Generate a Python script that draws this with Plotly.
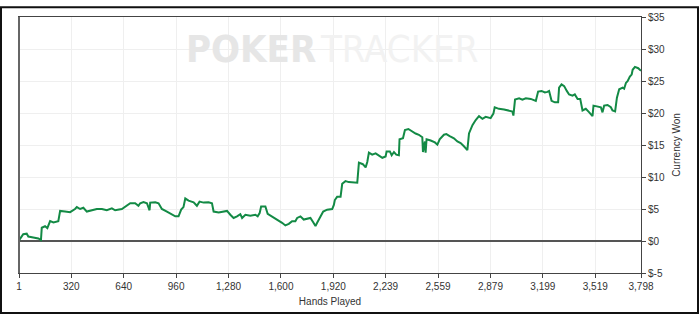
import plotly.graph_objects as go

hands = [1, 27, 48, 58, 88, 119, 135, 140, 160, 174, 191, 211, 241, 252, 282, 313, 343, 354, 374, 394,
         415, 446, 476, 507, 537, 568, 588, 629, 659, 680, 710, 730, 741, 761, 782, 798, 802, 833, 853, 873,
         904, 935, 955, 975, 991, 1005, 1016, 1036, 1067, 1087, 1103, 1128, 1158, 1179, 1189, 1220, 1250, 1271,
         1291, 1311, 1332, 1352, 1363, 1383, 1413, 1444, 1458, 1470, 1479, 1505, 1519, 1546, 1577, 1607, 1627,
         1648, 1668, 1688, 1699, 1719, 1739, 1760, 1780, 1797, 1811, 1821, 1835, 1858, 1882, 1913, 1923, 1929,
         1943, 1964, 1974, 1994, 2014, 2045, 2066, 2076, 2100, 2117, 2127, 2137, 2157, 2178, 2198, 2219, 2239,
         2245, 2265, 2276, 2290, 2304, 2320, 2324, 2345, 2357, 2378, 2402, 2422, 2442, 2463, 2467, 2479, 2483,
         2489, 2514, 2540, 2555, 2569, 2595, 2610, 2630, 2656, 2677, 2697, 2717, 2738, 2748, 2769, 2789, 2809,
         2830, 2850, 2880, 2897, 2905, 2931, 2962, 2993, 3013, 3019, 3029, 3054, 3074, 3095, 3125, 3156, 3170,
         3191, 3211, 3227, 3237, 3252, 3272, 3292, 3298, 3313, 3329, 3345, 3359, 3380, 3394, 3411, 3427, 3441,
         3461, 3482, 3502, 3508, 3533, 3553, 3563, 3573, 3594, 3614, 3624, 3640, 3651, 3665, 3686, 3695, 3706,
         3716, 3730, 3741, 3747, 3761, 3781, 3798]
won = [0.1, 1.06, 1.15, 0.7, 0.55, 0.4, 0.15, 2.07, 2.3, 2.0, 3.1, 2.9, 3.1, 4.7, 4.6, 4.5, 5.0, 5.3, 5.0, 5.2,
       4.6, 4.8, 5.0, 5.0, 4.8, 5.1, 4.8, 5.0, 5.5, 5.9, 5.9, 5.5, 5.9, 6.1, 5.9, 4.8, 6.0, 6.05, 5.9, 5.0,
       4.6, 4.1, 3.85, 3.85, 4.9, 5.3, 6.65, 6.3, 6.05, 5.5, 6.15, 6.0, 6.05, 5.9, 4.6, 4.45, 4.6, 4.7,
       4.1, 3.6, 3.85, 4.2, 3.6, 4.1, 3.96, 4.1, 3.85, 4.36, 5.4, 5.4, 4.26, 3.85, 3.35, 2.84, 2.43,
       2.68, 3.1, 3.1, 3.6, 3.85, 3.35, 3.45, 3.6, 2.94, 2.33, 2.84, 3.6, 4.6, 4.9, 5.0, 5.64, 6.4,
       6.9, 6.9, 8.94, 9.35, 9.2, 9.1, 9.1, 12.25, 12.0, 11.5, 12.35, 13.8, 13.5, 13.7, 13.4, 13.0, 13.2,
       14.0, 14.0, 13.4, 13.9, 13.5, 13.4, 15.9, 16.05, 17.35, 17.5, 17.1, 16.8, 16.6, 16.2, 13.9, 15.55, 13.8,
       15.9, 15.7, 15.4, 15.05, 15.9, 16.6, 16.7, 16.4, 16.05, 15.55, 15.3, 14.8, 14.2, 16.8, 18.1, 18.9, 19.5,
       19.1, 19.4, 19.2, 19.9, 20.9, 20.65, 20.55, 20.4, 20.24, 19.6, 22.1, 22.3, 22.07, 22.3, 22.2, 21.9, 23.35,
       23.45, 23.2, 23.3, 23.45, 21.9, 21.67, 21.67, 23.96, 24.47, 24.2, 23.45, 22.9, 22.7, 22.9, 22.2, 22.2, 20.4,
       20.65, 20.1, 19.5, 21.15, 21.0, 20.9, 20.1, 21.15, 21.25, 20.9, 20.4, 20.24, 22.4, 23.7, 23.96, 23.8, 24.7,
       24.97, 25.7, 26.0, 26.75, 27.2, 27.0, 26.6]

x_ticks = [1, 320, 640, 960, 1280, 1600, 1920, 2239, 2559, 2879, 3199, 3519, 3798]
x_labels = ["1", "320", "640", "960", "1,280", "1,600", "1,920", "2,239", "2,559", "2,879", "3,199", "3,519", "3,798"]
y_ticks = [-5, 0, 5, 10, 15, 20, 25, 30, 35]
y_labels = ["$-5", "$0", "$5", "$10", "$15", "$20", "$25", "$30", "$35"]

FONT = "Liberation Sans, Arial, sans-serif"
WM_FONT = "Liberation Sans Narrow, Arial Narrow, DejaVu Sans Condensed, sans-serif"

fig = go.Figure()
fig.add_trace(go.Scatter(x=hands, y=won, mode="lines",
                         line=dict(color="#138a45", width=2), hoverinfo="skip"))

W, H = 700, 316
L, R, T, B = 19, 59, 11, 43
pw, ph = W - L - R, H - T - B

def px(xp):
    return (xp - L) / pw

def py(yp):
    return (H - B - yp) / ph

fig.update_layout(
    width=W, height=H,
    margin=dict(l=L, r=R, t=T, b=B),
    paper_bgcolor="white", plot_bgcolor="white",
    showlegend=False,
    font=dict(family=FONT, size=10, color="#333"),
    xaxis=dict(range=[1, 3798], tickvals=x_ticks, ticktext=x_labels,
               showgrid=True, gridcolor="#efefef", gridwidth=1,
               showline=True, linecolor="#444", linewidth=1, mirror=True,
               ticks="outside", ticklen=4, tickcolor="#444",
               zeroline=False,
               title=dict(text="Hands Played", font=dict(size=10, color="#333"), standoff=6)),
    yaxis=dict(range=[-5, 35], tickvals=y_ticks, ticktext=y_labels, side="right",
               showgrid=True, gridcolor="#efefef", gridwidth=1,
               showline=True, linecolor="#444", linewidth=1, mirror=True,
               ticks="outside", ticklen=4, tickcolor="#444",
               zeroline=True, zerolinecolor="#555", zerolinewidth=1.5,
               title=dict(text="Currency Won", font=dict(size=10, color="#333"), standoff=8)),
    shapes=[
        dict(type="rect", xref="paper", yref="paper",
             x0=px(1), x1=px(698), y0=py(314), y1=py(1),
             line=dict(color="#111", width=2), layer="below"),
        dict(type="line", xref="paper", yref="paper",
             x0=0, x1=0, y0=0, y1=1, line=dict(color="#666", width=2)),
    ],
    annotations=[
        dict(text="<b>POKER</b>", xref="paper", yref="paper", x=px(318), y=py(44),
             xanchor="right", yanchor="middle", showarrow=False,
             font=dict(family=WM_FONT, size=38, color="#e6e6e6")),
        dict(text="TRACKER", xref="paper", yref="paper", x=px(318), y=py(44),
             xanchor="left", yanchor="middle", showarrow=False,
             font=dict(family=WM_FONT, size=38, color="#f2f2f2")),
    ],
)

fig.write_html("out.html")
